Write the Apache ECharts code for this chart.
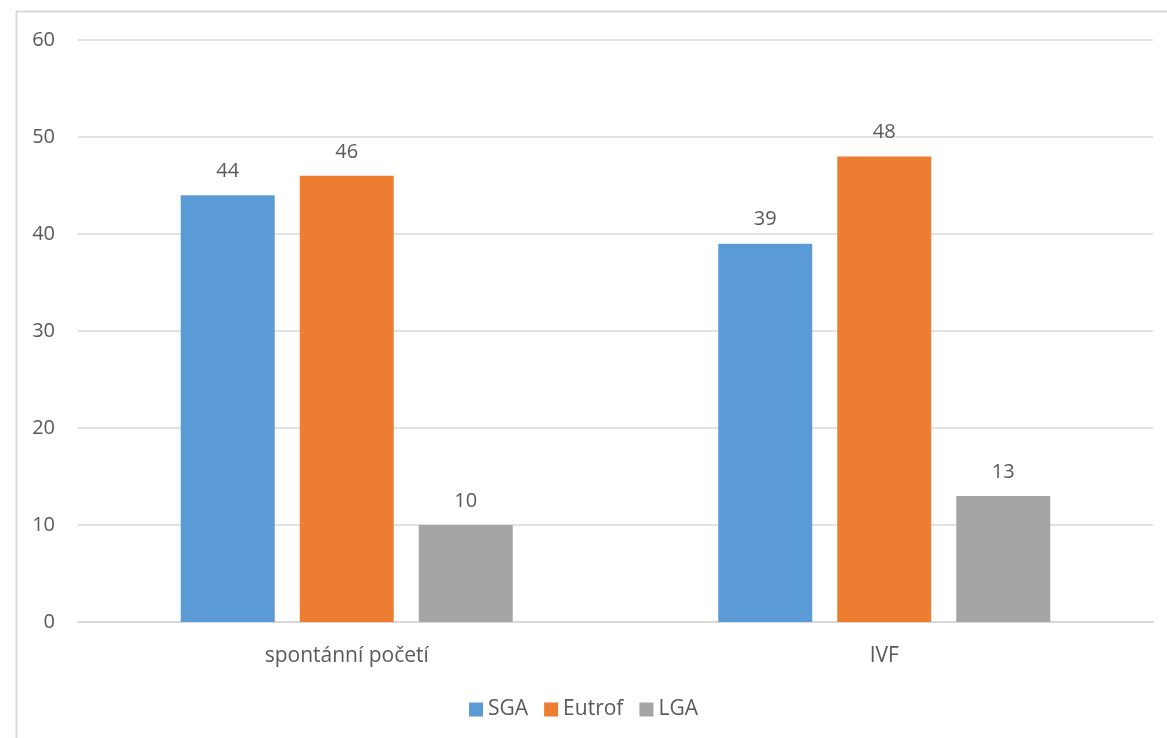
<!DOCTYPE html>
<html>
<head>
<meta charset="utf-8">
<script src="https://cdn.jsdelivr.net/npm/echarts@6/dist/echarts.min.js"></script>
<style>
  html, body { margin: 0; padding: 0; background: #fff; }
  #chart { width: 1167px; height: 738px; }
</style>
</head>
<body>
<div id="chart"></div>
<script>
const categories = ["spontánní početí", "IVF"];
const sgaValues = [44, 39];
const eutrofValues = [46, 48];
const lgaValues = [10, 13];
const colors = ["#5B9BD5", "#ED7D31", "#A5A5A5"];
const textColor = "#595959";
const fontFamily = "'Open Sans', 'Noto Sans', sans-serif";

function makeSeries(name, data, color) {
  return {
    name: name,
    type: "bar",
    data: data,
    barWidth: 94,
    barGap: "26.6%",
    itemStyle: { color: color },
    label: {
      show: true,
      position: "top",
      distance: 14,
      color: textColor,
      fontSize: 20,
      fontFamily: fontFamily,
    },
  };
}

const myChart = echarts.init(document.getElementById("chart"));
myChart.setOption({
  animation: false,
  backgroundColor: "#fff",
  textStyle: { fontFamily: fontFamily },
  graphic: [
    {
      type: "rect",
      left: 14,
      top: 9,
      shape: { width: 1300, height: 900 },
      style: { fill: "none", stroke: "#d9d9d9", lineWidth: 2 },
      silent: true,
    },
  ],
  grid: { left: 78, right: 14, top: 40, bottom: 116 },
  legend: {
    bottom: 13,
    left: "center",
    itemWidth: 14,
    itemHeight: 14,
    itemGap: 16,
    icon: "rect",
    textStyle: { color: textColor, fontSize: 21, fontFamily: fontFamily },
    data: ["SGA", "Eutrof", "LGA"],
  },
  xAxis: {
    type: "category",
    data: categories,
    axisTick: { show: false },
    axisLine: { lineStyle: { color: "#d9d9d9", width: 2 } },
    axisLabel: { color: textColor, fontSize: 21, margin: 24, fontFamily: fontFamily },
  },
  yAxis: {
    type: "value",
    min: 0,
    max: 60,
    interval: 10,
    axisLine: { show: false },
    axisTick: { show: false },
    axisLabel: { color: textColor, fontSize: 20, margin: 23, fontFamily: fontFamily },
    splitLine: { lineStyle: { color: "#d9d9d9", width: 1.5 } },
  },
  series: [
    makeSeries("SGA", sgaValues, colors[0]),
    makeSeries("Eutrof", eutrofValues, colors[1]),
    makeSeries("LGA", lgaValues, colors[2]),
  ],
});
</script>
</body>
</html>
